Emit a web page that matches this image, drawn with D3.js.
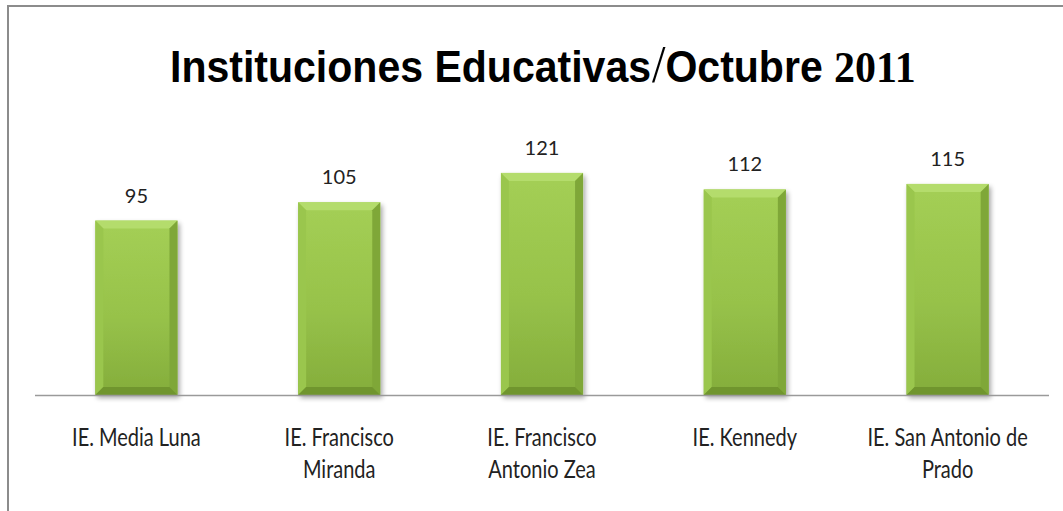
<!DOCTYPE html>
<html>
<head>
<meta charset="utf-8">
<script src="https://cdn.jsdelivr.net/npm/d3@7"></script>
<style>
  html, body { margin: 0; padding: 0; background: #fff; }
  svg { display: block; }
</style>
</head>
<body>
<div id="chart"></div>
<script>
const categories = [
  ["IE. Media Luna"],
  ["IE. Francisco", "Miranda"],
  ["IE. Francisco", "Antonio Zea"],
  ["IE. Kennedy"],
  ["IE. San Antonio de", "Prado"]
];
const values = [95, 105, 121, 112, 115];
const yDomain = [0, 140];

const W = 1063, H = 511;
const plot = { left: 35, right: 1049, top: 138, bottom: 395 };

const svg = d3.select("#chart").append("svg")
    .attr("width", W)
    .attr("height", H);

const defs = svg.append("defs");

const sideGrad = defs.append("linearGradient")
    .attr("id", "barBody")
    .attr("x1", "0").attr("y1", "0").attr("x2", "0").attr("y2", "1");
sideGrad.append("stop").attr("offset", "0%").attr("stop-color", "#a4cf55");
sideGrad.append("stop").attr("offset", "55%").attr("stop-color", "#97c24a");
sideGrad.append("stop").attr("offset", "100%").attr("stop-color", "#84ad3b");

const shadow = defs.append("filter")
    .attr("id", "shadow")
    .attr("x", "-20%").attr("y", "-10%").attr("width", "140%").attr("height", "130%");
shadow.append("feGaussianBlur").attr("in", "SourceAlpha").attr("stdDeviation", 2.5);
shadow.append("feOffset").attr("dx", 2).attr("dy", 3).attr("result", "off");
shadow.append("feComponentTransfer").append("feFuncA").attr("type", "linear").attr("slope", 0.35);
const merge = shadow.append("feMerge");
merge.append("feMergeNode");
merge.append("feMergeNode").attr("in", "SourceGraphic");

// frame
svg.append("line")
    .attr("x1", 7).attr("x2", W).attr("y1", 6).attr("y2", 6)
    .attr("stroke", "#8c8c8c").attr("stroke-width", 2);
svg.append("line")
    .attr("x1", 8).attr("x2", 8).attr("y1", 5).attr("y2", H)
    .attr("stroke", "#8c8c8c").attr("stroke-width", 2);

const x = d3.scaleBand()
    .domain(d3.range(values.length))
    .range([plot.left, plot.right])
    .paddingInner(0.595)
    .paddingOuter(0.2975);

const y = d3.scaleLinear()
    .domain(yDomain)
    .range([plot.bottom, plot.top]);

// title
const title = svg.append("text")
    .attr("y", 82)
    .attr("fill", "#000");
title.append("tspan")
    .style("font-family", "'Liberation Sans Narrow', 'Liberation Sans', Arial, sans-serif")
    .style("font-weight", "bold")
    .style("font-size", "44px")
    .text("Instituciones Educativas");
title.append("tspan")
    .style("font-family", "'Liberation Serif', serif")
    .style("font-size", "52px")
    .attr("dx", 1)
    .text("/");
title.append("tspan")
    .style("font-family", "'Liberation Sans Narrow', 'Liberation Sans', Arial, sans-serif")
    .style("font-weight", "bold")
    .style("font-size", "44px")
    .text("Octubre ");
title.append("tspan")
    .style("font-family", "'Liberation Serif', serif")
    .style("font-weight", "bold")
    .style("font-size", "45px")
    .text("2011");
{
  const len = title.node().getComputedTextLength();
  const sx = 745 / len;
  title.attr("transform", `translate(170,0) scale(${sx},1)`);
}

// bars
const bev = 8;
const bars = svg.append("g").selectAll("g.bar")
    .data(values)
    .join("g")
    .attr("class", "bar")
    .attr("filter", "url(#shadow)");

bars.each(function(d, i) {
  const g = d3.select(this);
  const x0 = x(i), x1 = x(i) + x.bandwidth();
  const y0 = y(d), y1 = y(0);
  g.append("rect")
      .attr("x", x0).attr("y", y0)
      .attr("width", x1 - x0).attr("height", y1 - y0)
      .attr("fill", "url(#barBody)");
  // top bevel
  g.append("path")
      .attr("d", `M${x0},${y0}L${x1},${y0}L${x1 - bev},${y0 + bev}L${x0 + bev},${y0 + bev}Z`)
      .attr("fill", "#b4dc6c");
  // left bevel
  g.append("path")
      .attr("d", `M${x0},${y0}L${x0 + bev},${y0 + bev}L${x0 + bev},${y1 - bev}L${x0},${y1}Z`)
      .attr("fill", "#9ac64d");
  // right bevel
  g.append("path")
      .attr("d", `M${x1},${y0}L${x1 - bev},${y0 + bev}L${x1 - bev},${y1 - bev}L${x1},${y1}Z`)
      .attr("fill", "#7fa739");
  // bottom bevel
  g.append("path")
      .attr("d", `M${x0},${y1}L${x0 + bev},${y1 - bev}L${x1 - bev},${y1 - bev}L${x1},${y1}Z`)
      .attr("fill", "#6f952d");
});

// baseline
svg.append("line")
    .attr("x1", plot.left).attr("x2", plot.right)
    .attr("y1", plot.bottom + 0.5).attr("y2", plot.bottom + 0.5)
    .attr("stroke", "#9a9a9a").attr("stroke-width", 1.5);

// value labels
svg.append("g").selectAll("text")
    .data(values)
    .join("text")
    .attr("x", (d, i) => x(i) + x.bandwidth() / 2)
    .attr("y", d => y(d) - 18)
    .attr("text-anchor", "middle")
    .style("font-family", "Lato, 'Open Sans', sans-serif")
    .style("font-size", "20px")
    .attr("fill", "#222")
    .text(d => d);

// category labels
const cat = svg.append("g").selectAll("text")
    .data(categories)
    .join("text")
    .attr("transform", (d, i) => `translate(${x(i) + x.bandwidth() / 2},446) scale(0.8,1)`)
    .attr("text-anchor", "middle")
    .style("font-family", "Lato, 'Open Sans', sans-serif")
    .style("font-size", "25px")
    .attr("fill", "#222");
cat.selectAll("tspan")
    .data(d => d)
    .join("tspan")
    .attr("x", 0)
    .attr("y", (d, j) => j * 32)
    .text(d => d);
</script>
</body>
</html>
